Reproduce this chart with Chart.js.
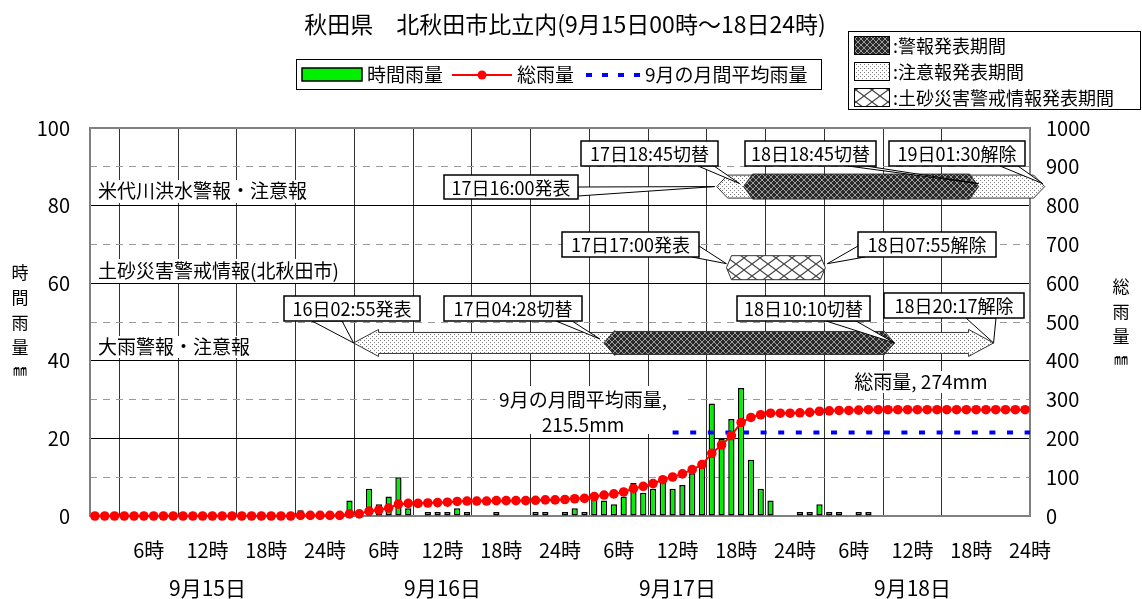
<!DOCTYPE html>
<html lang="ja">
<head>
<meta charset="utf-8">
<title>秋田県 北秋田市比立内</title>
<script src="https://cdn.jsdelivr.net/npm/chart.js@4.4.0/dist/chart.umd.min.js"></script>
<style>
  html, body { margin: 0; padding: 0; background: #fff; }
  #wrap { width: 1142px; height: 599px; }
</style>
</head>
<body>
<div id="wrap"><canvas id="rainChart" width="1142" height="599"></canvas></div>
<script>
// 横軸は 9月15日00時 からの経過時間(h)、1時間ごとの値
const dayLabels = ['9月15日', '9月16日', '9月17日', '9月18日'];

// 時間雨量 (mm) 15日〜18日
const hourlyRain = [
  0, 0, 0, 0, 0, 0, 0, 0, 0, 0, 0, 0, 0, 0, 0, 0, 0, 0, 0, 0, 0, 1.5, 0, 0,
  0, 0, 4, 0, 7, 3, 5, 10, 2, 0, 1, 1, 1, 2, 1, 0, 0, 1, 0, 0, 0, 1, 1, 0,
  1, 2, 1, 4.5, 4, 3, 5, 8.5, 6, 7, 10, 7, 8, 11, 13, 29, 20, 25, 33, 14.5, 7, 4, 0, 0,
  1, 1, 3, 1, 1, 0, 1, 1, 0, 0, 0, 0, 0, 0, 0, 0, 0, 0, 0, 0, 0, 0, 0, 0
];

// 総雨量 (mm)
const totalRain = [
  0, 0, 0, 0, 0, 0, 0, 0, 0, 0, 0, 0, 0, 0, 0, 0, 0, 0, 0, 0, 0, 1.5, 1.5, 1.5,
  1.5, 1.5, 5.5, 5.5, 12.5, 15.5, 20.5, 30.5, 32.5, 32.5, 33.5, 34.5, 35.5, 37.5, 38.5, 38.5, 38.5, 39.5, 39.5, 39.5, 39.5, 40.5, 41.5, 41.5,
  42.5, 44.5, 45.5, 50, 54, 57, 62, 70.5, 76.5, 83.5, 93.5, 100.5, 108.5, 119.5, 132.5, 161.5, 183, 207, 241, 254, 261, 265, 265, 265,
  266, 267, 270, 271, 272, 272, 273, 274, 274, 274, 274, 274, 274, 274, 274, 274, 274, 274, 274, 274, 274, 274, 274, 274
];

// 9月の月間平均雨量
const monthlyAvg = 215.5;
const monthlyAvgFrom = 59.5;

// 警報・注意報の期間 [開始h, 終了h]
const floodAdvisory = [64.0, 97.5];     // 17日16:00 〜 19日01:30
const floodWarning = [66.75, 90.75];    // 17日18:45 〜 18日18:45
const landslideAlert = [65.0, 75.1];    // 17日17:00 〜
const heavyAdvisory = [26.92, 92.28];   // 16日02:55 〜 18日20:17
const heavyWarning = [52.47, 82.17];    // 17日04:28 〜 18日10:10

const warnRows = ['米代川洪水警報・注意報', '土砂災害警戒情報(北秋田市)', '大雨警報・注意報'];

const FONT = "'Noto Sans CJK JP', 'Noto Sans', sans-serif";
Chart.defaults.font.family = FONT;
Chart.defaults.color = '#000';

// 塗りつぶし模様
function makePattern(w, h, draw) {
  const c = document.createElement('canvas');
  c.width = w; c.height = h;
  const g = c.getContext('2d');
  draw(g, w, h);
  return g.createPattern(c, 'repeat');
}
const darkFill = makePattern(6, 6, (g) => {
  g.fillStyle = '#2a2a2a'; g.fillRect(0, 0, 6, 6);
  g.fillStyle = '#9c9c9c';
  for (let i = 0; i < 6; i++) { g.fillRect(i, i, 1, 1); g.fillRect(5 - i, i, 1, 1); }
});
const lightFill = makePattern(4, 4, (g) => {
  g.fillStyle = '#fff'; g.fillRect(0, 0, 4, 4);
  g.fillStyle = '#7a7a7a';
  g.fillRect(0, 0, 1, 1); g.fillRect(2, 2, 1, 1);
});
const crossFill = makePattern(16, 12, (g) => {
  g.fillStyle = '#fff'; g.fillRect(0, 0, 16, 12);
  g.strokeStyle = '#444'; g.lineWidth = 1.2;
  g.beginPath();
  g.moveTo(0, 0); g.lineTo(16, 12);
  g.moveTo(0, 12); g.lineTo(16, 0);
  g.stroke();
});

// 両端がとがった帯
function band(ctx, x1, x2, yc, h, head, flare, fill) {
  ctx.beginPath();
  ctx.moveTo(x1, yc);
  ctx.lineTo(x1 + head, yc - h - flare);
  ctx.lineTo(x1 + head, yc - h);
  ctx.lineTo(x2 - head, yc - h);
  ctx.lineTo(x2 - head, yc - h - flare);
  ctx.lineTo(x2, yc);
  ctx.lineTo(x2 - head, yc + h + flare);
  ctx.lineTo(x2 - head, yc + h);
  ctx.lineTo(x1 + head, yc + h);
  ctx.lineTo(x1 + head, yc + h + flare);
  ctx.closePath();
  ctx.fillStyle = fill;
  ctx.fill();
  ctx.strokeStyle = '#333';
  ctx.lineWidth = 1;
  ctx.stroke();
}

// 吹き出し
const notes = [
  { text: '17日16:00発表', box: [444, 175, 578, 199], base: [[578, 187], [578, 196]], tip: [floodAdvisory[0], 0, -2, 0] },
  { text: '17日18:45切替', box: [581, 141, 718, 166], base: [[698, 166], [714, 166]], tip: [floodWarning[0], 0, -4, -3] },
  { text: '18日18:45切替', box: [745, 141, 876, 166], base: [[848, 166], [866, 166]], tip: [floodWarning[1], 0, 0, -3] },
  { text: '19日01:30解除', box: [889, 141, 1025, 166], base: [[1000, 166], [1018, 166]], tip: [floodAdvisory[1], 0, -2, -3] },
  { text: '17日17:00発表', box: [562, 232, 699, 257], base: [[699, 246], [692, 257]], tip: [landslideAlert[0], 1, 0, -4] },
  { text: '18日07:55解除', box: [858, 232, 996, 257], base: [[858, 246], [865, 257]], tip: [landslideAlert[1], 1, 2, -4] },
  { text: '16日02:55発表', box: [284, 296, 420, 321], base: [[312, 321], [342, 321]], tip: [heavyAdvisory[0], 2, 0, 0] },
  { text: '17日04:28切替', box: [444, 296, 582, 321], base: [[556, 321], [572, 321]], tip: [heavyWarning[0], 2, -4, -4] },
  { text: '18日10:10切替', box: [737, 296, 870, 321], base: [[826, 321], [856, 321]], tip: [heavyWarning[1], 2, 0, 0] },
  { text: '18日20:17解除', box: [884, 293, 1024, 318], base: [[966, 318], [996, 318]], tip: [heavyAdvisory[1], 2, 0, 0] }
];
const rowLevels = [84.9, 64.0, 44.6];

function textAt(ctx, s, x, y, size, align) {
  ctx.font = size + 'px ' + FONT;
  ctx.textAlign = align || 'left';
  ctx.textBaseline = 'middle';
  ctx.fillStyle = '#000';
  ctx.fillText(s, x, y);
}

const decor = {
  id: 'decor',
  beforeDatasetsDraw(chart) {
    const { ctx, chartArea: a } = chart;
    ctx.save();
    ctx.strokeStyle = '#808080';
    ctx.lineWidth = 2;
    ctx.strokeRect(a.left, a.top, a.right - a.left, a.bottom - a.top);

    // 行ラベル
    const rowBoxes = [[91, 180, 312, 203], [91, 259, 347, 283], [91, 336, 252, 358]];
    const rowText = [191, 271, 347];
    warnRows.forEach((r, i) => {
      const b = rowBoxes[i];
      ctx.fillStyle = '#fff';
      ctx.fillRect(b[0], b[1], b[2] - b[0], b[3] - b[1]);
      textAt(ctx, r, 98, rowText[i], 19);
    });

    // 平均・総雨量の注記
    ctx.fillStyle = '#fff';
    ctx.fillRect(495, 386, 188, 48);
    textAt(ctx, '9月の月間平均雨量,', 583, 400, 19, 'center');
    textAt(ctx, monthlyAvg + 'mm', 583, 425, 19, 'center');
    ctx.fillStyle = '#fff';
    ctx.fillRect(853, 371, 136, 22);
    textAt(ctx, '総雨量, ' + totalRain[totalRain.length - 1] + 'mm', 921, 382, 19, 'center');
    ctx.restore();
  },
  afterDatasetsDraw(chart) {
    const { ctx, scales } = chart;
    const xs = (h) => scales.x.getPixelForValue(h);
    const ys = rowLevels.map((v) => scales.yL.getPixelForValue(v));
    ctx.save();
    // 米代川洪水
    band(ctx, xs(floodAdvisory[0]), xs(floodAdvisory[1]), ys[0], 11.5, 11, 0, lightFill);
    band(ctx, xs(floodWarning[0]), xs(floodWarning[1]), ys[0], 12.5, 9, 0, darkFill);
    // 土砂災害
    band(ctx, xs(landslideAlert[0]), xs(landslideAlert[1]), ys[1], 12, 5, 0, crossFill);
    // 大雨
    band(ctx, xs(heavyAdvisory[0]), xs(heavyAdvisory[1]), ys[2], 10.5, 25, 3, lightFill);
    band(ctx, xs(heavyWarning[0]), xs(heavyWarning[1]), ys[2], 11.5, 11, 1, darkFill);

    notes.forEach((n) => {
      const [x1, y1, x2, y2] = n.box;
      const tx = xs(n.tip[0]) + n.tip[2];
      const ty = ys[n.tip[1]] + n.tip[3];
      ctx.beginPath();
      ctx.moveTo(n.base[0][0], n.base[0][1]);
      ctx.lineTo(tx, ty);
      ctx.lineTo(n.base[1][0], n.base[1][1]);
      ctx.closePath();
      ctx.fillStyle = '#fff';
      ctx.fill();
      ctx.strokeStyle = '#000';
      ctx.lineWidth = 1;
      ctx.stroke();
      ctx.fillRect(x1, y1, x2 - x1, y2 - y1);
      ctx.lineWidth = 1.5;
      ctx.strokeRect(x1, y1, x2 - x1, y2 - y1);
      textAt(ctx, n.text, (x1 + x2) / 2, (y1 + y2) / 2 + 1, 18, 'center');
    });
    ctx.restore();
  },
  afterDraw(chart) {
    const { ctx, scales } = chart;
    const ds = chart.data.datasets;
    ctx.save();
    // タイトル
    textAt(ctx, '秋田県　北秋田市比立内(9月15日00時～18日24時)', 565, 24, 23, 'center');

    // 凡例 (系列)
    ctx.fillStyle = '#fff';
    ctx.fillRect(296, 59, 525, 30);
    ctx.strokeStyle = '#000';
    ctx.lineWidth = 1;
    ctx.strokeRect(296.5, 59.5, 525, 30);
    const bar = ds[2], tot = ds[0], avg = ds[1];
    ctx.fillStyle = bar.backgroundColor;
    ctx.fillRect(302, 68, 60, 13);
    ctx.lineWidth = 1.5;
    ctx.strokeStyle = '#000';
    ctx.strokeRect(302, 68, 60, 13);
    textAt(ctx, bar.label, 367, 75, 19);
    ctx.strokeStyle = tot.borderColor;
    ctx.lineWidth = 2;
    ctx.beginPath(); ctx.moveTo(452, 75); ctx.lineTo(512, 75); ctx.stroke();
    ctx.fillStyle = tot.backgroundColor;
    ctx.beginPath(); ctx.arc(482, 75, 4.5, 0, Math.PI * 2); ctx.fill();
    textAt(ctx, tot.label, 517, 75, 19);
    ctx.strokeStyle = avg.borderColor;
    ctx.lineWidth = 4;
    ctx.setLineDash([6, 10]);
    ctx.beginPath(); ctx.moveTo(586, 75); ctx.lineTo(644, 75); ctx.stroke();
    ctx.setLineDash([]);
    textAt(ctx, avg.label, 645, 75, 19);

    // 凡例 (期間)
    ctx.fillStyle = '#fff';
    ctx.fillRect(848, 31, 293, 78);
    ctx.strokeStyle = '#000';
    ctx.lineWidth = 1;
    ctx.strokeRect(848.5, 31.5, 292, 78);
    const keys = [[darkFill, ':警報発表期間'], [lightFill, ':注意報発表期間'], [crossFill, ':土砂災害警戒情報発表期間']];
    [45, 71, 97].forEach((y, i) => {
      ctx.fillStyle = keys[i][0];
      ctx.fillRect(854, y - 9, 35, 18);
      ctx.strokeStyle = '#000';
      ctx.lineWidth = 1;
      ctx.strokeRect(854.5, y - 8.5, 35, 18);
      textAt(ctx, keys[i][1], 893, y + 1, 18);
    });

    // 軸タイトル (縦書き)
    ['時', '間', '雨', '量'].forEach((c, i) => textAt(ctx, c, 20, 273 + i * 25, 17, 'center'));
    textAt(ctx, '㎜', 20, 370, 14, 'center');
    ['総', '雨', '量'].forEach((c, i) => textAt(ctx, c, 1121, 287 + i * 25, 17, 'center'));
    textAt(ctx, '㎜', 1121, 359, 14, 'center');

    // 日付
    dayLabels.forEach((d, i) => textAt(ctx, d, scales.x.getPixelForValue(12 + 24 * i), 588, 21, 'center'));
    ctx.restore();
  }
};

const ctx = document.getElementById('rainChart').getContext('2d');
const rainChart = new Chart(ctx, {
  type: 'bar',
  data: {
    datasets: [{
      type: 'line',
      label: '総雨量',
      data: totalRain.map((v, k) => ({ x: k + 0.5, y: v })),
      yAxisID: 'yR',
      borderColor: '#FF0000',
      backgroundColor: '#FF0000',
      borderWidth: 2,
      pointRadius: 4.8,
      pointBorderWidth: 0,
      clip: false,
      order: 0
    }, {
      type: 'line',
      label: '9月の月間平均雨量',
      data: [{ x: monthlyAvgFrom, y: monthlyAvg }, { x: 96, y: monthlyAvg }],
      yAxisID: 'yR',
      borderColor: '#0000FF',
      borderWidth: 4,
      borderDash: [6, 11.6],
      pointRadius: 0,
      order: 1
    }, {
      type: 'bar',
      label: '時間雨量',
      data: hourlyRain.map((v, k) => ({ x: k + 0.5, y: v })),
      yAxisID: 'yL',
      backgroundColor: '#00F000',
      borderColor: '#000',
      borderWidth: 1.5,
      borderSkipped: false,
      barPercentage: 0.64,
      categoryPercentage: 1,
      order: 2
    }]
  },
  options: {
    responsive: false,
    animation: false,
    devicePixelRatio: 1,
    layout: { padding: { top: 128 } },
    plugins: { legend: { display: false }, title: { display: false }, tooltip: { enabled: false } },
    scales: {
      x: {
        type: 'linear',
        min: 0,
        max: 96,
        offset: false,
        ticks: {
          stepSize: 6,
          autoSkip: false,
          maxRotation: 0,
          padding: 22,
          font: { size: 20 },
          callback: (v) => v === 0 ? '' : ((v - 1) % 24 + 1) + '時'
        },
        grid: {
          drawTicks: false,
          lineWidth: 1,
          color: (c) => (c.tick && (c.tick.value === 0 || c.tick.value === 96)) ? 'rgba(0,0,0,0)' : '#333'
        },
        border: { display: false },
        afterFit: (s) => { s.height = 83; }
      },
      yL: {
        position: 'left',
        min: 0,
        max: 100,
        ticks: {
          stepSize: 10,
          padding: 20,
          font: { size: 20 },
          callback: (v) => v % 20 === 0 ? v : ''
        },
        grid: {
          drawTicks: false,
          lineWidth: 1,
          color: (c) => {
            if (!c.tick) return '#000';
            const v = c.tick.value;
            if (v === 0 || v === 100) return 'rgba(0,0,0,0)';
            return v % 20 === 0 ? '#000' : '#9a9a9a';
          }
        },
        border: { display: false, dash: (c) => (c.tick && c.tick.value % 20 !== 0) ? [7, 6] : [] },
        afterFit: (s) => { s.width = 90; }
      },
      yR: {
        position: 'right',
        min: 0,
        max: 1000,
        ticks: { stepSize: 100, padding: 16, font: { size: 20 }, callback: (v) => String(v) },
        grid: { drawOnChartArea: false, drawTicks: false },
        border: { display: false },
        afterFit: (s) => { s.width = 112; }
      }
    }
  },
  plugins: [decor]
});
</script>
</body>
</html>
